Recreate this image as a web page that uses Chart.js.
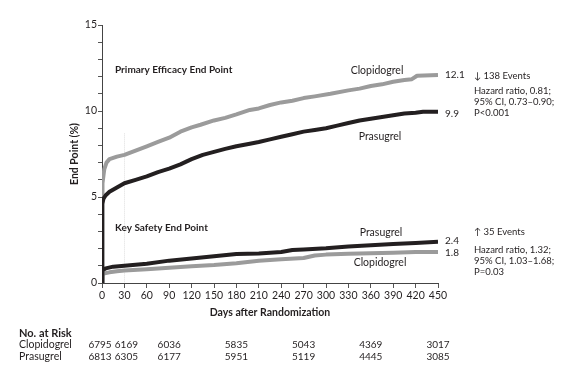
<!DOCTYPE html>
<html>
<head>
<meta charset="utf-8">
<script src="https://cdn.jsdelivr.net/npm/chart.js@4/dist/chart.umd.min.js"></script>
<style>
  html, body { margin: 0; padding: 0; background: #ffffff; }
  #wrap { width: 571px; height: 372px; position: relative; }
</style>
</head>
<body>
<div id="wrap"><canvas id="c" width="571" height="372"></canvas></div>
<script>
// ---- Data ----
const effClopDays = [0, 0.3, 1, 3, 6, 10, 20, 30, 45, 60, 75, 90, 105, 120, 132, 150, 165, 180, 198, 210, 225, 240, 255, 270, 285, 306, 330, 345, 360, 375, 390, 405, 415, 422, 450];
const effClopVals = [0, 5.0, 5.8, 6.6, 7.0, 7.2, 7.35, 7.45, 7.7, 7.95, 8.2, 8.45, 8.8, 9.05, 9.2, 9.45, 9.6, 9.8, 10.06, 10.15, 10.35, 10.5, 10.6, 10.75, 10.85, 11.0, 11.2, 11.3, 11.45, 11.55, 11.7, 11.8, 11.85, 12.05, 12.1];

const effPrasDays = [0, 0.3, 2, 5, 10, 20, 30, 45, 60, 75, 90, 105, 120, 135, 150, 165, 180, 198, 210, 225, 240, 255, 270, 285, 300, 315, 330, 345, 360, 375, 390, 405, 420, 430, 450];
const effPrasVals = [0, 4.6, 4.9, 5.1, 5.3, 5.55, 5.8, 6.0, 6.2, 6.45, 6.65, 6.9, 7.2, 7.45, 7.62, 7.8, 7.95, 8.1, 8.2, 8.35, 8.5, 8.65, 8.8, 8.9, 9.0, 9.15, 9.3, 9.45, 9.55, 9.65, 9.75, 9.85, 9.9, 9.95, 9.95];

const safClopDays = [0, 0.3, 2, 10, 20, 30, 60, 90, 120, 150, 180, 210, 240, 270, 285, 300, 330, 360, 390, 420, 450];
const safClopVals = [0, 0.45, 0.55, 0.62, 0.68, 0.72, 0.8, 0.88, 0.98, 1.05, 1.15, 1.3, 1.38, 1.45, 1.6, 1.65, 1.7, 1.73, 1.76, 1.8, 1.8];

const safPrasDays = [0, 0.3, 5, 15, 30, 60, 90, 120, 150, 180, 210, 240, 255, 270, 300, 330, 360, 390, 420, 450];
const safPrasVals = [0, 0.75, 0.85, 0.95, 1.0, 1.12, 1.3, 1.42, 1.55, 1.68, 1.72, 1.8, 1.92, 1.95, 2.02, 2.12, 2.2, 2.27, 2.33, 2.4];

const riskDays = [0, 30, 90, 180, 270, 360, 450];
const riskClopidogrel = [6795, 6169, 6036, 5835, 5043, 4369, 3017];
const riskPrasugrel = [6813, 6305, 6177, 5951, 5119, 4445, 3085];

const endLabels = ["12.1", "9.9", "2.4", "1.8"];
const endValues = [12.1, 9.85, 2.45, 1.75];

const pts = (xs, ys) => xs.map((x, i) => ({ x: x, y: ys[i] }));

const GRAY = '#9b9b9b';
const BLACK = '#231f20';
const TXT = '#231f20';
const FONT = 'Lato, "Open Sans", sans-serif';

const textPlugin = {
  id: 'texts',
  beforeDatasetsDraw(chart) {
    const ctx = chart.ctx;
    const xs = chart.scales.x, ys = chart.scales.y;
    ctx.save();
    ctx.strokeStyle = '#dedede';
    ctx.lineWidth = 1;
    ctx.setLineDash([1, 1]);
    ctx.beginPath();
    const x30 = Math.round(xs.getPixelForValue(30)) + 0.5;
    ctx.moveTo(x30, ys.getPixelForValue(8.7));
    ctx.lineTo(x30, ys.getPixelForValue(0));
    ctx.stroke();
    ctx.restore();
  },
  afterDraw(chart) {
    const ctx = chart.ctx;
    const xs = chart.scales.x, ys = chart.scales.y;
    ctx.save();
    ctx.fillStyle = TXT;
    ctx.textBaseline = 'middle';

    // Panel titles
    ctx.font = 'bold 10px ' + FONT;
    ctx.textAlign = 'left';
    ctx.fillText('Primary Efficacy End Point', 115, 70);
    ctx.fillText('Key Safety End Point', 115, 228);

    // Curve labels
    ctx.font = '10.5px ' + FONT;
    ctx.textAlign = 'center';
    ctx.fillText('Clopidogrel', 377, 71);
    ctx.fillText('Prasugrel', 380, 137);
    ctx.fillText('Prasugrel', 381, 233);
    ctx.fillText('Clopidogrel', 380, 263);

    // End values
    ctx.font = '10px ' + FONT;
    ctx.textAlign = 'left';
    const ex = xs.getPixelForValue(450) + 7;
    endLabels.forEach((t, i) => ctx.fillText(t, ex, ys.getPixelForValue(endValues[i])));

    // Right annotations
    ctx.font = '9.5px ' + FONT;
    const ax = 474;
    ctx.fillText('\u2193 138 Events', ax, 76);
    ctx.fillText('Hazard ratio, 0.81;', ax, 91);
    ctx.fillText('95% CI, 0.73\u20130.90;', ax, 102);
    ctx.fillText('P<0.001', ax, 113);
    ctx.fillText('\u2191 35 Events', ax, 232);
    ctx.fillText('Hazard ratio, 1.32;', ax, 250);
    ctx.fillText('95% CI, 1.03\u20131.68;', ax, 261);
    ctx.fillText('P=0.03', ax, 272);

    // Axis titles
    ctx.font = 'bold 10.5px ' + FONT;
    ctx.textAlign = 'center';
    ctx.fillText('Days after Randomization', (xs.left + xs.right) / 2, 313);
    ctx.save();
    ctx.translate(75, 154);
    ctx.rotate(-Math.PI / 2);
    ctx.fillText('End Point (%)', 0, 0);
    ctx.restore();

    // Risk table
    ctx.textAlign = 'left';
    ctx.font = 'bold 11px ' + FONT;
    ctx.fillText('No. at Risk', 19, 333);
    ctx.font = '10.5px ' + FONT;
    ctx.fillText('Clopidogrel', 19, 345);
    ctx.fillText('Prasugrel', 19, 357);
    ctx.font = '10px ' + FONT;
    ctx.textAlign = 'center';
    riskDays.forEach((d, i) => {
      let px = xs.getPixelForValue(d);
      if (d === 0) px -= 2;
      if (d === 30) px += 2;
      ctx.fillText(String(riskClopidogrel[i]), px, 345);
      ctx.fillText(String(riskPrasugrel[i]), px, 357);
    });
    ctx.restore();
  }
};

new Chart(document.getElementById('c'), {
  type: 'line',
  data: {
    datasets: [
      { label: 'Clopidogrel efficacy', data: pts(effClopDays, effClopVals), borderColor: GRAY, borderWidth: 4, order: 2 },
      { label: 'Prasugrel efficacy', data: pts(effPrasDays, effPrasVals), borderColor: BLACK, borderWidth: 4, order: 1 },
      { label: 'Clopidogrel safety', data: pts(safClopDays, safClopVals), borderColor: GRAY, borderWidth: 4, order: 2 },
      { label: 'Prasugrel safety', data: pts(safPrasDays, safPrasVals), borderColor: BLACK, borderWidth: 4, order: 1 }
    ]
  },
  options: {
    responsive: false,
    animation: false,
    devicePixelRatio: 1,
    layout: { padding: { left: 72, right: 133, top: 25, bottom: 59 } },
    elements: { point: { radius: 0 }, line: { tension: 0, borderJoinStyle: 'round', borderCapStyle: 'butt' } },
    plugins: { legend: { display: false }, tooltip: { enabled: false } },
    scales: {
      x: {
        type: 'linear', min: 0, max: 450,
        afterFit: s => { s.height = 30; },
        ticks: { stepSize: 30, color: TXT, font: { family: FONT, size: 10.5 }, padding: 1, maxRotation: 0, autoSkip: false },
        grid: { drawOnChartArea: false, drawTicks: true, tickLength: 5, color: '#555' },
        border: { display: true, color: '#444', width: 1 }
      },
      y: {
        min: 0, max: 15,
        afterFit: s => { s.width = 30; },
        ticks: { stepSize: 1, color: TXT, font: { family: FONT, size: 10.5 }, padding: 1,
          callback: v => (v % 5 === 0 ? String(v) : '') },
        grid: { drawOnChartArea: false, drawTicks: true, tickLength: 4, color: '#555' },
        border: { display: true, color: '#444', width: 1 }
      }
    }
  },
  plugins: [textPlugin]
});
</script>
</body>
</html>
